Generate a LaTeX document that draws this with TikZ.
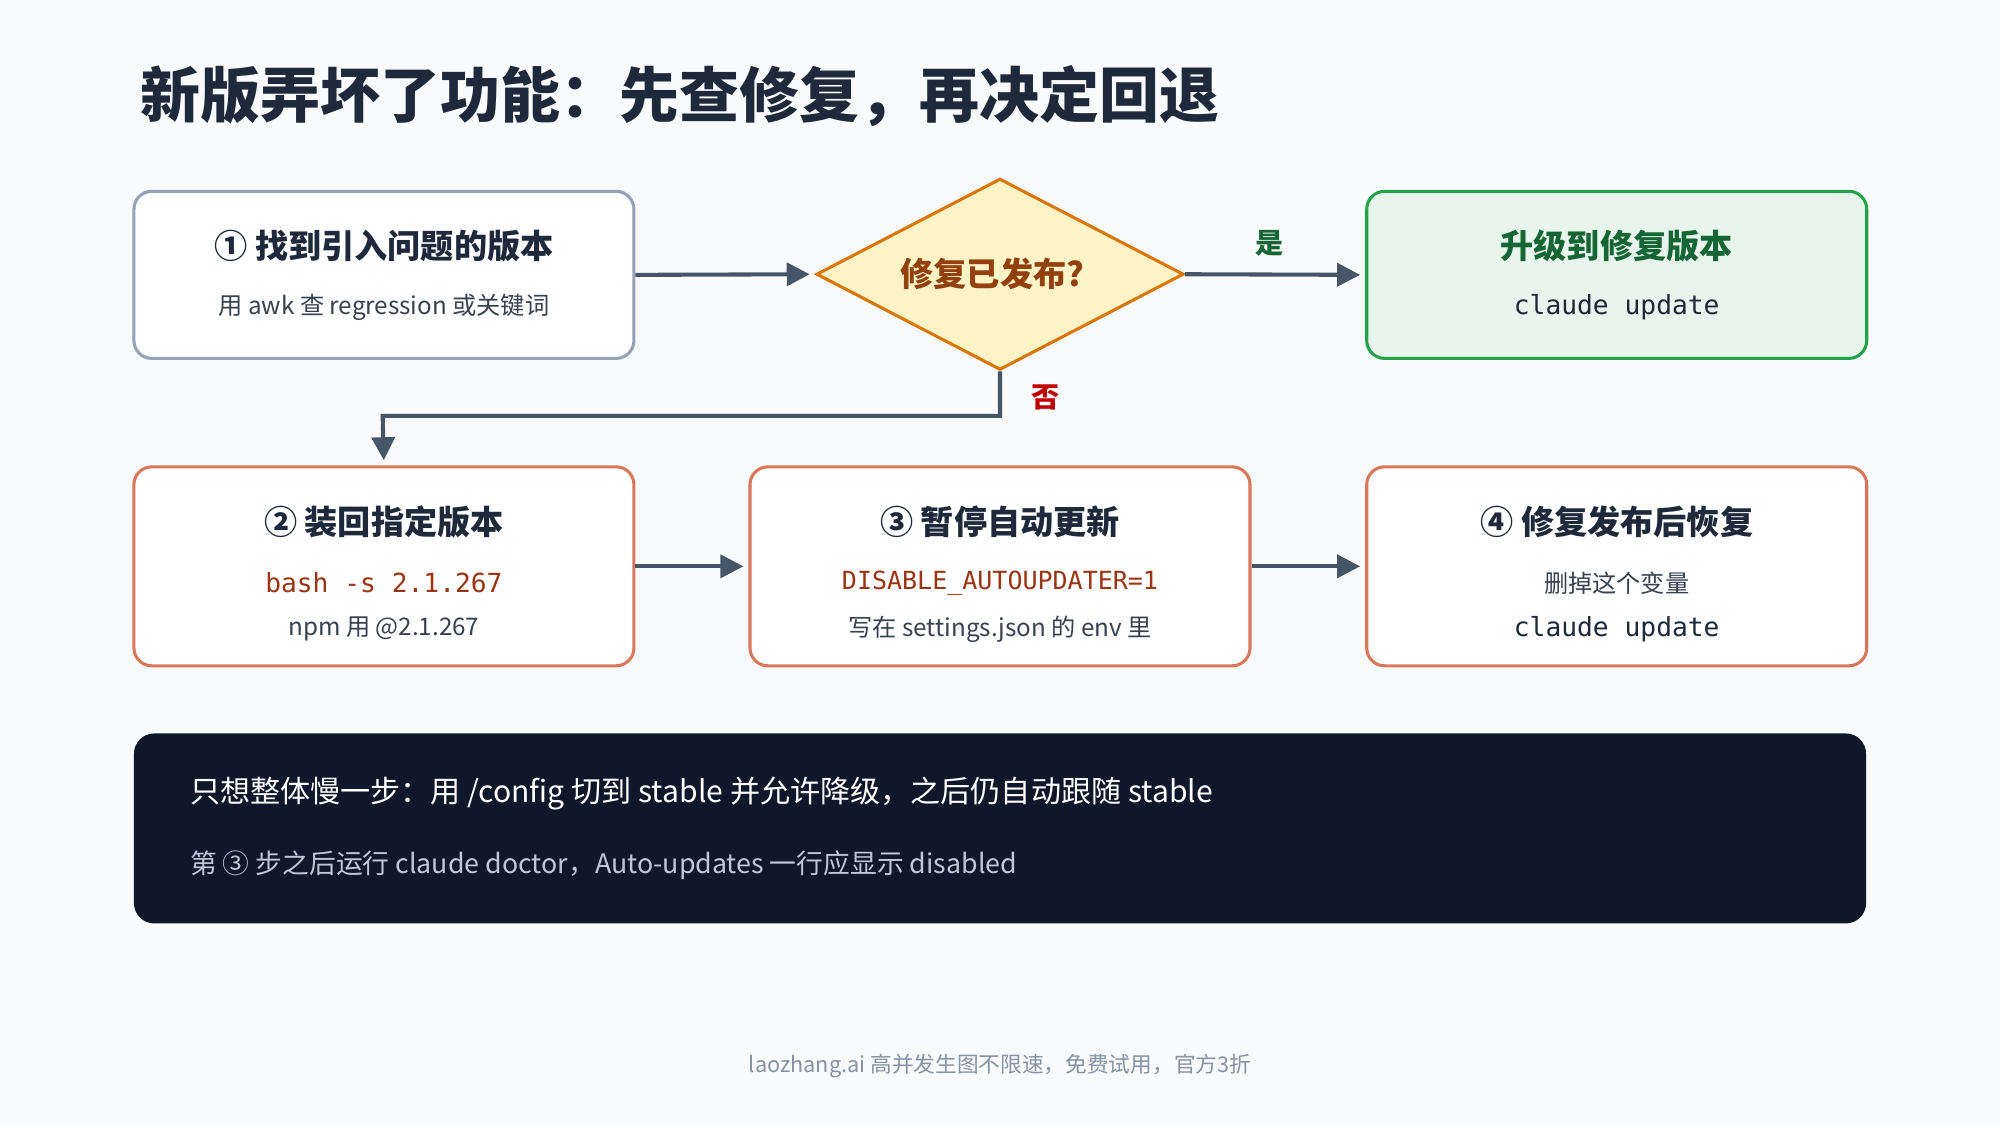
\documentclass[tikz,border=0pt]{standalone}
\usepackage{fontspec}
\setmainfont{Noto Sans CJK SC}
\setmonofont{DejaVu Sans Mono}
\usetikzlibrary{arrows.meta,shapes.geometric}
\definecolor{bg}{HTML}{F8FAFC}
\definecolor{ink}{HTML}{1E293B}
\definecolor{subink}{HTML}{374151}
\definecolor{edge}{HTML}{475569}
\definecolor{grayline}{HTML}{94A3B8}
\definecolor{orangeline}{HTML}{D9775A}
\definecolor{codered}{HTML}{9A3412}
\definecolor{greenfill}{HTML}{E8F5EC}
\definecolor{greenline}{HTML}{22A34A}
\definecolor{greenink}{HTML}{166534}
\definecolor{ambfill}{HTML}{FEF3C7}
\definecolor{ambline}{HTML}{D97706}
\definecolor{ambink}{HTML}{92400E}
\definecolor{navy}{HTML}{0F172A}
\begin{document}
\begin{tikzpicture}[
   x=0.5pt,y=-0.5pt,
   box/.style={draw=grayline,fill=white,line width=1.2pt,rounded corners=7pt,
     minimum width=196pt,minimum height=65.5pt,inner sep=0pt},
   stepbox/.style={box,draw=orangeline,minimum height=78pt},
   head/.style={font=\fontsize{13}{15}\selectfont\bfseries,text=ink},
   sub/.style={font=\fontsize{9.5}{11}\selectfont,text=subink},
   code/.style={font=\fontsize{10.3}{12}\selectfont\ttfamily,text=codered},
   to/.style={-{Triangle[length=9pt,width=9pt]},line width=1.6pt,draw=edge,shorten >=2pt}]
\fill[bg] (0,0) rectangle (1568,882);
\useasboundingbox (0,0) rectangle (1568,882);
\node[anchor=west,font=\fontsize{23.5}{28}\selectfont\bfseries,text=ink] (title) at (103,75) {新版弄坏了功能：先查修复，再决定回退};
% first row
\node[box] (find) at (301,215.5) {};
\node[head] (findH) at (301,193) {① 找到引入问题的版本};
\node[sub] (findS) at (301,241) {用 awk 查 regression 或关键词};
\node[diamond,draw=ambline,fill=ambfill,line width=1.2pt,minimum width=144pt,minimum height=75pt,inner sep=0pt] (ask) at (784,215) {};
\node[font=\fontsize{13}{15}\selectfont\bfseries,text=ambink] (askT) at (778,215) {修复已发布?};
\node[box,draw=greenline,fill=greenfill] (up) at (1267.5,215.5) {};
\node[head,text=greenink] (upH) at (1267.5,193) {升级到修复版本};
\node[code,text=ink] (upC) at (1267.5,241) {claude update};
% second row
\node[stepbox] (pin) at (301,444) {};
\node[head] (pinH) at (301,409) {② 装回指定版本};
\node[code] (pinC) at (301,457) {bash -s 2.1.267};
\node[sub] (pinS) at (301,493) {npm 用 @2.1.267};
\node[stepbox] (stop) at (784,444) {};
\node[head] (stopH) at (784,409) {③ 暂停自动更新};
\node[code,font=\fontsize{9.8}{12}\selectfont\ttfamily] (stopC) at (784,457) {DISABLE\_AUTOUPDATER=1};
\node[sub] (stopS) at (784,493) {写在 settings.json 的 env 里};
\node[stepbox] (back) at (1267.5,444) {};
\node[head] (backH) at (1267.5,409) {④ 修复发布后恢复};
\node[sub] (backS) at (1267.5,457) {删掉这个变量};
\node[code,text=ink] (backC) at (1267.5,493) {claude update};
% connectors
\draw[to] (find.east) -- (ask.west);
\draw[to] (ask.east) -- (up.west);
\node[font=\fontsize{11}{13}\selectfont\bfseries,text=greenink] (yes) at (995,191) {是};
\draw[to] (ask.south) |- (300,326) -- (pin.north);
\node[font=\fontsize{11}{13}\selectfont\bfseries,text=red!75!black] (no) at (820,312) {否};
\draw[to] (pin.east) -- (stop.west);
\draw[to] (stop.east) -- (back.west);
% note
\node[fill=navy,rounded corners=8pt,minimum width=679pt,minimum height=74.5pt,inner sep=0pt] (note) at (784,649.5) {};
\node[anchor=west,text=white,font=\fontsize{11.8}{14}\selectfont] (noteA) at (142,622) {只想整体慢一步：用 /config 切到 stable 并允许降级，之后仍自动跟随 stable};
\node[anchor=west,text=grayline!60!white,font=\fontsize{10.5}{13}\selectfont] (noteB) at (142,678) {第 ③ 步之后运行 claude doctor，Auto-updates 一行应显示 disabled};
\node[text=grayline!90!black,font=\fontsize{8.5}{10}\selectfont] (foot) at (784,836) {laozhang.ai 高并发生图不限速，免费试用，官方3折};
\end{tikzpicture}
\end{document}
